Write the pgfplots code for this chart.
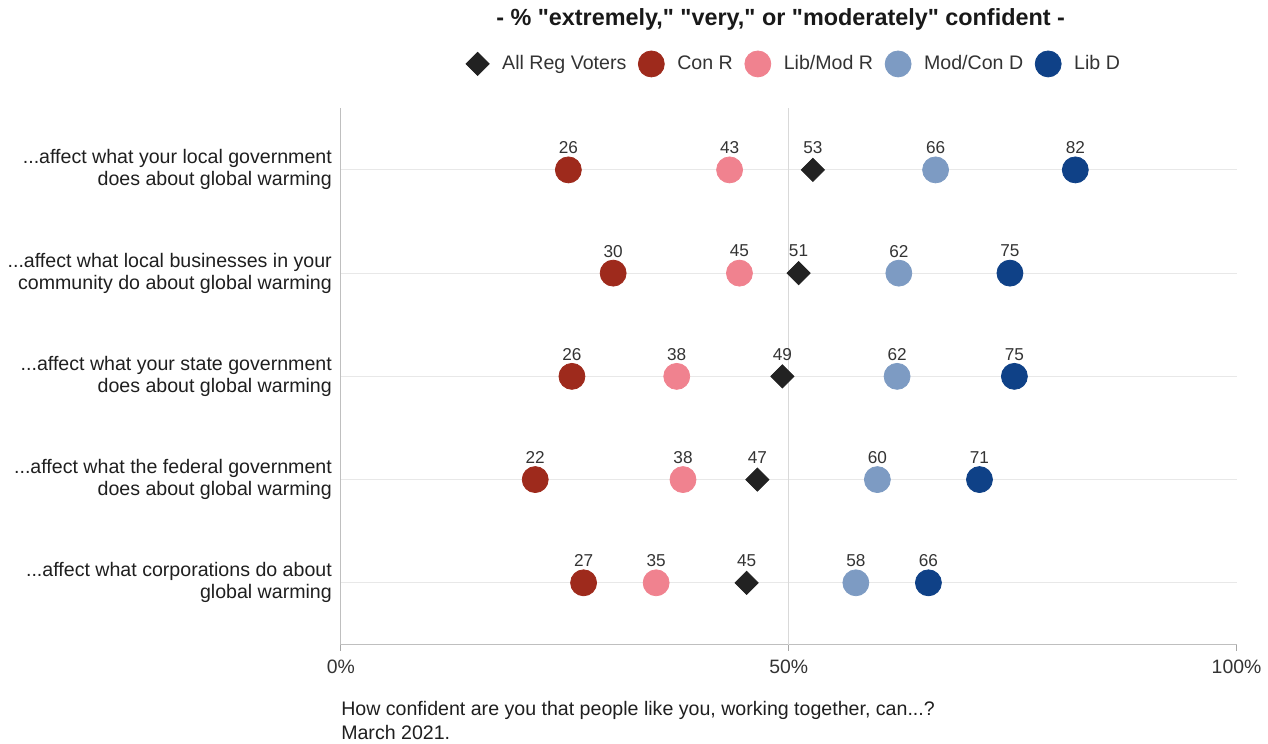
\documentclass[border=0pt]{standalone}
\usepackage{pgfplots}
\pgfplotsset{compat=1.18}
\usepackage{fontspec}
\setmainfont{Liberation Sans}[Ligatures=TeXOff]
\definecolor{conr}{HTML}{9E2A1C}
\definecolor{libr}{HTML}{F0828F}
\definecolor{modd}{HTML}{7D9BC3}
\definecolor{libd}{HTML}{0F4187}
\definecolor{dk}{HTML}{222222}
\definecolor{txt}{HTML}{333333}
\newcommand\dd{...}
\newcommand\q{\char34\relax}
\begin{document}
\begin{tikzpicture}
\begin{axis}[
  scale only axis, width=448pt, height=268.5pt,
  clip=false,
  xmin=0, xmax=100, ymin=0.4, ymax=5.6,
  axis lines*=left,
  axis line style={draw=black!25, line width=0.6pt},
  xtick={0,50,100}, xticklabels={0\%,50\%,100\%},
  x tick style={draw=black!35, line width=0.6pt},
  tick align=outside, major tick length=3pt,
  xticklabel style={font=\fontsize{9.7}{11}\selectfont, text=txt, yshift=-1pt},
  extra x ticks={50}, extra x tick labels={},
  extra x tick style={grid=major, major grid style={draw=black!15, line width=0.6pt}, major tick length=0pt},
  ytick={1,2,3,4,5},
  yticklabels={{\dd affect what corporations do about\\global warming},
               {\dd affect what the federal government\\does about global warming},
               {\dd affect what your state government\\does about global warming},
               {\dd affect what local businesses in your\\community do about global warming},
               {\dd affect what your local government\\does about global warming}},
  yticklabel style={align=right, font=\fontsize{9.8}{11}\selectfont, text=black!88, xshift=2pt},
  y tick style={draw=none},
  ymajorgrids, y grid style={draw=black!9, line width=0.6pt},
  nodes near coords, point meta=explicit symbolic,
  every node near coord/.append style={anchor=center, yshift=11pt, font=\fontsize{8.6}{10}\selectfont, text=txt},
  legend columns=5,
  legend style={draw=none, fill=none, at={(rel axis cs:0.507,1.082)}, anchor=center,
    font=\fontsize{9.8}{11}\selectfont, text=txt,
    /tikz/every odd column/.append style={column sep=4.5pt},
    /tikz/every even column/.append style={column sep=4pt}},
  legend image code/.code={\draw[#1] plot coordinates {(0pt,0pt)};},
]
\addplot[only marks, mark=square*, mark size=4.1pt, mark options={rotate=45, fill=dk, draw=dk}]
  coordinates {(52.7,5)[53] (51.1,4)[51] (49.3,3)[49] (46.5,2)[47] (45.3,1)[45]};
\addlegendentry{All Reg Voters}
\addplot[only marks, mark=*, mark size=6.5pt, mark options={fill=conr, draw=conr}]
  coordinates {(25.4,5)[26] (30.4,4)[30] (25.8,3)[26] (21.7,2)[22] (27.1,1)[27]};
\addlegendentry{Con R}
\addplot[only marks, mark=*, mark size=6.5pt, mark options={fill=libr, draw=libr}]
  coordinates {(43.4,5)[43] (44.5,4)[45] (37.5,3)[38] (38.2,2)[38] (35.2,1)[35]};
\addlegendentry{Lib/Mod R}
\addplot[only marks, mark=*, mark size=6.5pt, mark options={fill=modd, draw=modd}]
  coordinates {(66.4,5)[66] (62.3,4)[62] (62.1,3)[62] (59.9,2)[60] (57.5,1)[58]};
\addlegendentry{Mod/Con D}
\addplot[only marks, mark=*, mark size=6.5pt, mark options={fill=libd, draw=libd}]
  coordinates {(82.0,5)[82] (74.7,4)[75] (75.2,3)[75] (71.3,2)[71] (65.6,1)[66]};
\addlegendentry{Lib D}
\node[font=\bfseries\fontsize{11.7}{13}\selectfont, text=black!90] at (rel axis cs:0.491,1.164)
  {- \% \q extremely,\q{} \q very,\q{} or \q moderately\q{} confident -};
\node[anchor=north west, align=left, inner sep=0pt, font=\fontsize{9.8}{12}\selectfont, text=black!88]
  at (rel axis cs:0,-0.105) {How confident are you that people like you, working together, can...?\\March 2021.};
\path (rel axis cs:0,0) ++(-170.5pt,-49.5pt) rectangle ++(634pt,372pt);
\end{axis}
\end{tikzpicture}
\end{document}
